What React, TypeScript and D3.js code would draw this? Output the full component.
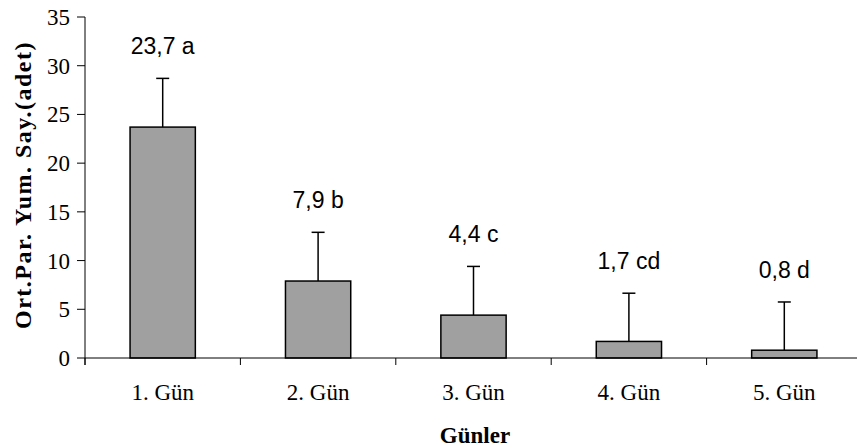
import * as d3 from 'd3';

const days = ['1. Gün', '2. Gün', '3. Gün', '4. Gün', '5. Gün'];
const means = [23.7, 7.9, 4.4, 1.7, 0.8];
const errors = [5.0, 5.0, 5.0, 4.95, 4.95];
const labels = ['23,7 a', '7,9 b', '4,4 c', '1,7 cd', '0,8 d'];
const yTicks = [0, 5, 10, 15, 20, 25, 30, 35];

const W = 857;
const H = 448;
const margin = { left: 85, right: -5, top: 17, bottom: 90 };

export default function App() {
	const x = d3
		.scaleBand()
		.domain(days)
		.range([margin.left, W - margin.right])
		.paddingInner(0)
		.paddingOuter(0);

	const y = d3
		.scaleLinear()
		.domain([0, 35])
		.range([H - margin.bottom, margin.top]);

	const bw = x.bandwidth() * 0.42;
	const y0 = y(0);
	const serif = '"Liberation Serif", "Times New Roman", serif';
	const sans = '"Liberation Sans", Arial, sans-serif';

	return (
		<svg
			width={W}
			height={H}
			style={{ position: 'absolute', left: 0, top: 0, background: '#fff' }}>
			{/* bars */}
			{days.map((d, i) => {
				const cx = x(d)! + x.bandwidth() / 2;
				const top = y(means[i] + errors[i]);
				return (
					<g key={d}>
						<line x1={cx} x2={cx} y1={y(means[i])} y2={top} stroke='#000' strokeWidth={1.5} />
						<line x1={cx - 6.5} x2={cx + 6.5} y1={top} y2={top} stroke='#000' strokeWidth={1.5} />
						<rect
							x={cx - bw / 2}
							y={y(means[i])}
							width={bw}
							height={y0 - y(means[i])}
							fill='#a0a0a0'
							stroke='#000'
							strokeWidth={1.5}
						/>
						<text
							x={cx}
							y={top - 24}
							textAnchor='middle'
							fontFamily={sans}
							fontSize={23}>
							{labels[i]}
						</text>
						<text
							x={cx}
							y={400}
							textAnchor='middle'
							fontFamily={serif}
							fontSize={23}>
							{d}
						</text>
					</g>
				);
			})}

			{/* y axis */}
			<line x1={margin.left} x2={margin.left} y1={y(35)} y2={y0 + 7} stroke='#000' />
			{yTicks.map((t) => (
				<g key={t}>
					<line x1={margin.left - 8} x2={margin.left} y1={y(t)} y2={y(t)} stroke='#000' />
					<text
						x={margin.left - 15}
						y={y(t) + 8}
						textAnchor='end'
						fontFamily={serif}
						fontSize={23}>
						{t}
					</text>
				</g>
			))}

			{/* x axis */}
			<line x1={margin.left} x2={W} y1={y0} y2={y0} stroke='#000' />
			{days.map((d) => (
				<line key={d} x1={x(d)!} x2={x(d)!} y1={y0} y2={y0 + 7} stroke='#000' />
			))}

			<text
				transform={`translate(31,185) rotate(-90)`}
				textAnchor='middle'
				fontFamily={serif}
				fontWeight='bold'
				fontSize={24}
				letterSpacing={1.5}>
				Ort.Par. Yum. Say.(adet)
			</text>
			<text
				x={475}
				y={443}
				textAnchor='middle'
				fontFamily={serif}
				fontWeight='bold'
				fontSize={23}>
				Günler
			</text>
		</svg>
	);
}
